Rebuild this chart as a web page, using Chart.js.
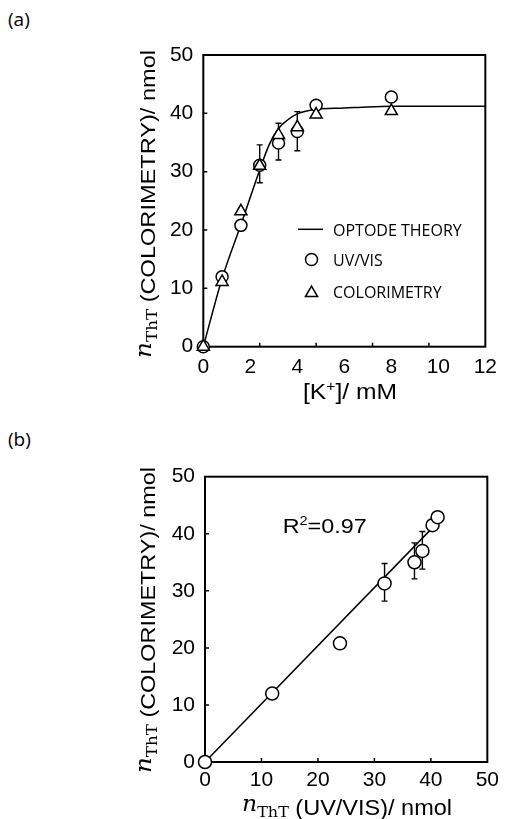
<!DOCTYPE html>
<html>
<head>
<meta charset="utf-8">
<script src="https://cdn.jsdelivr.net/npm/chart.js@4.4.1/dist/chart.umd.min.js"></script>
<style>
  body { margin: 0; background: #fff; }
  #page { position: relative; width: 505px; height: 819px; overflow: hidden; }
  canvas { position: absolute; left: 0; }
  .tag { position: absolute; left: 8px; font: 19px/19px "Open Sans", sans-serif; color: #000; }
</style>
</head>
<body>
<div id="page">
  <div class="tag" style="top:10px">(a)</div>
  <canvas id="chartA" width="505" height="410" style="top:0"></canvas>
  <div class="tag" style="top:430px">(b)</div>
  <canvas id="chartB" width="505" height="409" style="top:410px"></canvas>
</div>
<script>
// (a) n_ThT against [K+]
const kConc = [0, 0.8, 1.6, 2.4, 3.2, 4.0, 4.8, 8.0];
const uvVis = [0, 12.0, 20.8, 31.1, 34.9, 36.9, 41.4, 42.8];
const colorimetry = [0, 11.1, 23.2, 31.0, 36.3, 37.6, 39.8, 40.4];
const errLowA = [null, null, null, 28.1, 32.0, 33.6, null, null];
const errHighA = [null, null, null, 34.6, 38.3, 40.3, null, null];
const theoryK = [0, 0.8, 1.6, 2.4, 2.8, 3.2, 3.6, 4.0, 4.4, 4.8, 6, 7, 8, 10, 12];
const theoryN = [0, 11.7, 20.9, 30.3, 34.6, 37.4, 38.9, 39.9, 40.4, 40.7, 40.9, 41.1, 41.2, 41.2, 41.2];
const xTickMarksA = [2.4, 4.8, 7.2, 9.6];
const yTickMarks = [10, 20, 30, 40];

// (b) colorimetry against UV/VIS
const uvVisB = [0, 11.9, 23.9, 31.8, 37.1, 38.5, 40.3, 41.2];
const colorB = [0, 12.0, 20.8, 31.3, 35.0, 37.0, 41.5, 42.9];
const errLowB = [null, null, null, 28.2, 32.1, 33.8, null, null];
const errHighB = [null, null, null, 34.8, 38.4, 40.4, null, null];
const fitX = [0, 42.2];
const fitY = [0, 43.0];
const xTickMarksB = [10, 20, 30, 40];
const r2Value = '0.97';

const SANS = '"Liberation Sans", Arial, sans-serif';
const SERIF = '"DejaVu Serif", serif';

const pts = (xs, ys) => xs.map((v, i) => ({ x: v, y: ys[i] }));

// draws mixed-font text, centered (or left aligned) and stretched to a target width
function drawRich(ctx, parts, x, y, opt) {
  ctx.save();
  ctx.translate(x, y);
  if (opt.rotate) ctx.rotate(-Math.PI / 2);
  let total = 0;
  parts.forEach(p => { ctx.font = p.font; p.w = ctx.measureText(p.t).width; total += p.w; });
  const k = opt.width ? opt.width / total : 1;
  ctx.scale(k, 1);
  let cx = opt.align === 'left' ? 0 : -total / 2;
  ctx.fillStyle = '#000';
  ctx.textBaseline = 'alphabetic';
  ctx.textAlign = 'left';
  parts.forEach(p => { ctx.font = p.font; ctx.fillText(p.t, cx, p.dy || 0); cx += p.w; });
  ctx.restore();
}

function nThT(rest, size) {
  return [
    { t: 'n', font: 'italic 22px ' + SERIF, dy: -4 },
    { t: 'ThT', font: '15px ' + SERIF, dy: 2 },
    { t: rest, font: size + 'px ' + SANS }
  ];
}

function makeDeco(cfg) {
  return {
    id: 'deco',
    beforeDatasetsDraw(chart) {
      const { ctx, chartArea: a, scales: { x, y } } = chart;
      ctx.save();
      ctx.strokeStyle = '#000';
      ctx.lineWidth = 2;
      ctx.strokeRect(a.left, a.top, a.right - a.left, a.bottom - a.top);
      ctx.lineWidth = 1.5;
      ctx.beginPath();
      cfg.xMarks.forEach(v => {
        const px = x.getPixelForValue(v);
        ctx.moveTo(px, a.bottom); ctx.lineTo(px, a.bottom - 4);
      });
      cfg.yMarks.forEach(v => {
        const py = y.getPixelForValue(v);
        ctx.moveTo(a.left, py); ctx.lineTo(a.left + 4, py);
      });
      ctx.stroke();
      // error bars
      ctx.lineWidth = 1.4;
      ctx.beginPath();
      cfg.errX.forEach((v, i) => {
        if (cfg.errLow[i] == null) return;
        const px = x.getPixelForValue(v);
        const lo = y.getPixelForValue(cfg.errLow[i]);
        const hi = y.getPixelForValue(cfg.errHigh[i]);
        ctx.moveTo(px, lo); ctx.lineTo(px, hi);
        ctx.moveTo(px - 3, lo); ctx.lineTo(px + 3, lo);
        ctx.moveTo(px - 3, hi); ctx.lineTo(px + 3, hi);
      });
      ctx.stroke();
      ctx.restore();
    },
    afterDraw(chart) {
      const ctx = chart.ctx;
      drawRich(ctx, cfg.yTitle, cfg.yTitlePos[0], cfg.yTitlePos[1], { rotate: true, width: cfg.yTitleLen });
      drawRich(ctx, cfg.xTitle, cfg.xTitlePos[0], cfg.xTitlePos[1], { width: cfg.xTitleLen });
      if (cfg.extra) cfg.extra(chart);
    }
  };
}

const axisFont = { family: SANS, size: 21 };

function scaleOpts(min, max, step, fit, pad) {
  return {
    type: 'linear', min: min, max: max,
    afterFit: fit,
    grid: { display: false, drawTicks: false },
    border: { display: false },
    ticks: { stepSize: step, padding: pad, color: '#000', font: axisFont, maxRotation: 0 }
  };
}

const marker = (style, r) => ({
  pointStyle: style, pointRadius: r, pointHoverRadius: r,
  pointBorderWidth: 1.5, pointBackgroundColor: '#fff', pointBorderColor: '#000',
  borderColor: '#000', backgroundColor: '#fff', clip: false
});

// ---------- chart (a) ----------
new Chart(document.getElementById('chartA'), {
  type: 'scatter',
  data: {
    datasets: [
      Object.assign({ label: 'COLORIMETRY', data: pts(kConc, colorimetry) }, marker('triangle', 7)),
      Object.assign({ label: 'UV/VIS', data: pts(kConc, uvVis) }, marker('circle', 6)),
      {
        label: 'OPTODE THEORY', data: pts(theoryK, theoryN), showLine: true,
        pointRadius: 0, borderColor: '#000', borderWidth: 1.5,
        cubicInterpolationMode: 'monotone', clip: false
      }
    ]
  },
  options: {
    responsive: false, animation: false, events: [],
    layout: { padding: { left: 0, right: 14.3, top: 55, bottom: 0 } },
    plugins: { legend: { display: false }, tooltip: { enabled: false } },
    scales: {
      x: scaleOpts(0, 12, 2, s => { s.height = 63.3; }, 8),
      y: scaleOpts(0, 50, 10, s => { s.width = 203.3; }, 10)
    }
  },
  plugins: [makeDeco({
    xMarks: xTickMarksA, yMarks: yTickMarks,
    errX: kConc, errLow: errLowA, errHigh: errHighA,
    yTitle: nThT(' (COLORIMETRY)/ nmol', 21), yTitlePos: [155, 204], yTitleLen: 308,
    xTitle: [
      { t: '[K', font: '22px ' + SANS },
      { t: '+', font: '14px ' + SANS, dy: -8 },
      { t: ']/ mM', font: '22px ' + SANS }
    ],
    xTitlePos: [350, 399.3], xTitleLen: 94,
    extra(chart) {
      const ctx = chart.ctx;
      ctx.save();
      ctx.strokeStyle = '#000';
      ctx.fillStyle = '#fff';
      ctx.lineWidth = 1.5;
      ctx.beginPath(); ctx.moveTo(298, 229.3); ctx.lineTo(323, 229.3); ctx.stroke();
      Chart.helpers.drawPoint(ctx, { pointStyle: 'circle', radius: 6, borderWidth: 1.5, rotation: 0 }, 311.5, 259.5);
      Chart.helpers.drawPoint(ctx, { pointStyle: 'triangle', radius: 7, borderWidth: 1.5, rotation: 0 }, 311.5, 293);
      ctx.fillStyle = '#000';
      ctx.font = '16px "Open Sans", sans-serif';
      ctx.textBaseline = 'alphabetic';
      ctx.fillText('OPTODE THEORY', 333, 235.7);
      ctx.fillText('UV/VIS', 333, 265.7);
      ctx.fillText('COLORIMETRY', 333, 297.7);
      ctx.restore();
    }
  })]
});

// ---------- chart (b) ----------
new Chart(document.getElementById('chartB'), {
  type: 'scatter',
  data: {
    datasets: [
      Object.assign({ label: 'data', data: pts(uvVisB, colorB) }, marker('circle', 6.5)),
      {
        label: 'fit', data: pts(fitX, fitY), showLine: true,
        pointRadius: 0, borderColor: '#000', borderWidth: 1.5, clip: false
      }
    ]
  },
  options: {
    responsive: false, animation: false, events: [],
    layout: { padding: { left: 0, right: 17.3, top: 66.7, bottom: 0 } },
    plugins: { legend: { display: false }, tooltip: { enabled: false } },
    scales: {
      x: scaleOpts(0, 50, 10, s => { s.height = 57; }, 6),
      y: scaleOpts(0, 50, 10, s => { s.width = 205; }, 10)
    }
  },
  plugins: [makeDeco({
    xMarks: xTickMarksB, yMarks: yTickMarks,
    errX: uvVisB, errLow: errLowB, errHigh: errHighB,
    yTitle: nThT(' (COLORIMETRY)/ nmol', 21), yTitlePos: [155, 210], yTitleLen: 306,
    xTitle: nThT(' (UV/VIS)/ nmol', 22), xTitlePos: [347, 405], xTitleLen: 210,
    extra(chart) {
      const { x, y } = chart.scales;
      drawRich(chart.ctx, [
        { t: 'R', font: '21px ' + SANS },
        { t: '2', font: '13px ' + SANS, dy: -8 },
        { t: '=' + r2Value, font: '21px ' + SANS }
      ], x.getPixelForValue(21.2), y.getPixelForValue(40.1), { width: 84 });
    }
  })]
});
</script>
</body>
</html>
